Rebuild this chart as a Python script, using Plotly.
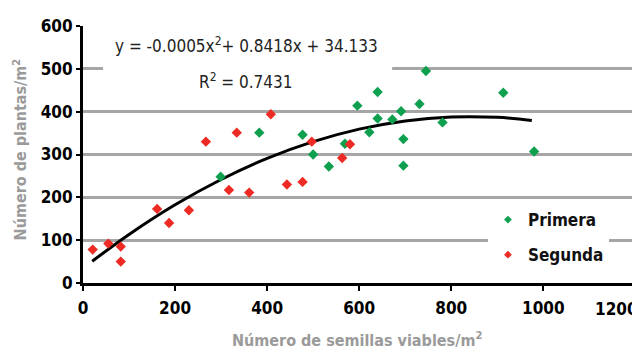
import plotly.graph_objects as go

# Data
primera_x = [299, 383, 477, 500, 534, 569, 596, 622, 640, 640, 672, 691, 696, 696, 731, 745, 781, 913, 980]
primera_y = [248, 351, 346, 300, 272, 325, 414, 352, 446, 384, 382, 401, 336, 274, 418, 495, 375, 444, 307]

segunda_x = [21, 55, 82, 82, 161, 187, 230, 267, 334, 408, 317, 361, 443, 477, 497, 563, 580]
segunda_y = [78, 92, 85, 50, 173, 140, 170, 330, 351, 394, 217, 211, 230, 236, 330, 292, 324]

# Trend line points
trend_x = [20, 100, 200, 300, 400, 500, 600, 700, 800, 900, 975]
trend_y = [50.8, 113.3, 182.5, 241.7, 290.9, 330.0, 359.2, 378.4, 387.6, 386.8, 379.6]

x_ticks = [0, 200, 400, 600, 800, 1000, 1200]
y_ticks = [0, 100, 200, 300, 400, 500, 600]

series_names = ["Primera", "Segunda"]

eq_text = "y = -0.0005x<sup>2</sup>+ 0.8418x + 34.133"
r2_text = "R<sup>2</sup> = 0.7431"

GREEN = "#0fa04f"
RED = "#ee2a24"
FONT = "Liberation Sans Narrow, DejaVu Sans Condensed, Arial Narrow, sans-serif"
TICKFONT = dict(family=FONT, size=17, color="black", weight="bold")

fig = go.Figure()
fig.add_trace(go.Scatter(
    x=trend_x, y=trend_y, mode="lines", line=dict(color="black", width=3, shape="spline"),
    showlegend=False, hoverinfo="skip"))
fig.add_trace(go.Scatter(
    x=primera_x, y=primera_y, mode="markers", name=series_names[0], showlegend=False,
    marker=dict(symbol="diamond", size=8, color=GREEN)))
fig.add_trace(go.Scatter(
    x=segunda_x, y=segunda_y, mode="markers", name=series_names[1], showlegend=False,
    marker=dict(symbol="diamond", size=8, color=RED)))
# legend entries with the smaller legend symbols
fig.add_trace(go.Scatter(
    x=[None], y=[None], mode="markers", name=series_names[0], legendgroup="a",
    marker=dict(symbol="diamond", size=6, color=GREEN)))
fig.add_trace(go.Scatter(
    x=[None], y=[None], mode="markers", name=series_names[1], legendgroup="b",
    marker=dict(symbol="diamond", size=6, color=RED)))

# last x tick label is placed flush with the right edge so it stays readable
x_ticktext = [str(v) for v in x_ticks[:-1]] + [""]

fig.update_layout(
    # page body has an 8px margin, so the figure is 8px smaller and margins shifted
    width=632, height=344,
    margin=dict(l=75, r=0, t=18, b=69),
    paper_bgcolor="white", plot_bgcolor="white",
    font=dict(family=FONT, color="black"),
    showlegend=True,
    legend=dict(x=0.727, xanchor="left", y=0.315, yanchor="top",
                bgcolor="white", borderwidth=0,
                font=dict(family=FONT, size=17, color="#111", weight="bold"),
                tracegroupgap=10, traceorder="grouped"),
    xaxis=dict(range=[0, 1210], tickvals=x_ticks, ticktext=x_ticktext,
               showgrid=False, zeroline=False, showline=True, linecolor="black", linewidth=3,
               ticks="outside", ticklen=5, tickwidth=2, tickcolor="black",
               ticklabelstandoff=3,
               tickfont=TICKFONT, automargin=False),
    yaxis=dict(range=[0, 600], tickvals=y_ticks, ticktext=[str(v) for v in y_ticks],
               showgrid=True, gridcolor="#a6a6a6", gridwidth=3, zeroline=False,
               showline=True, linecolor="black", linewidth=3,
               ticks="outside", ticklen=4, tickwidth=2, tickcolor="black",
               tickfont=TICKFONT, automargin=False),
    shapes=[dict(type="rect", xref="paper", yref="paper", x0=0.036, x1=0.555, y0=0.80, y1=1.04,
                 fillcolor="white", line=dict(width=0), layer="above")],
    annotations=[
        dict(text=str(x_ticks[-1]), xref="paper", yref="paper", x=1.0, y=-0.102,
             xanchor="right", yanchor="middle", showarrow=False, font=TICKFONT),
        dict(text=eq_text, xref="paper", yref="paper", x=0.294, y=0.926,
             xanchor="center", yanchor="middle", showarrow=False,
             font=dict(family=FONT, size=17, color="#222")),
        dict(text=r2_text, xref="paper", yref="paper", x=0.291, y=0.785,
             xanchor="center", yanchor="middle", showarrow=False,
             font=dict(family=FONT, size=17, color="#222")),
        dict(text="Número de plantas/m<sup>2</sup>", xref="paper", yref="paper", x=-0.113, y=0.52,
             xanchor="center", yanchor="middle", textangle=-90, showarrow=False,
             font=dict(family=FONT, size=16, color="#9a9a9a", weight="bold")),
        dict(text="Número de semillas viables/m<sup>2</sup>", xref="paper", yref="paper", x=0.492, y=-0.22,
             xanchor="center", yanchor="middle", showarrow=False,
             font=dict(family=FONT, size=16, color="#9a9a9a", weight="bold")),
    ],
)

fig.write_html("out.html")
